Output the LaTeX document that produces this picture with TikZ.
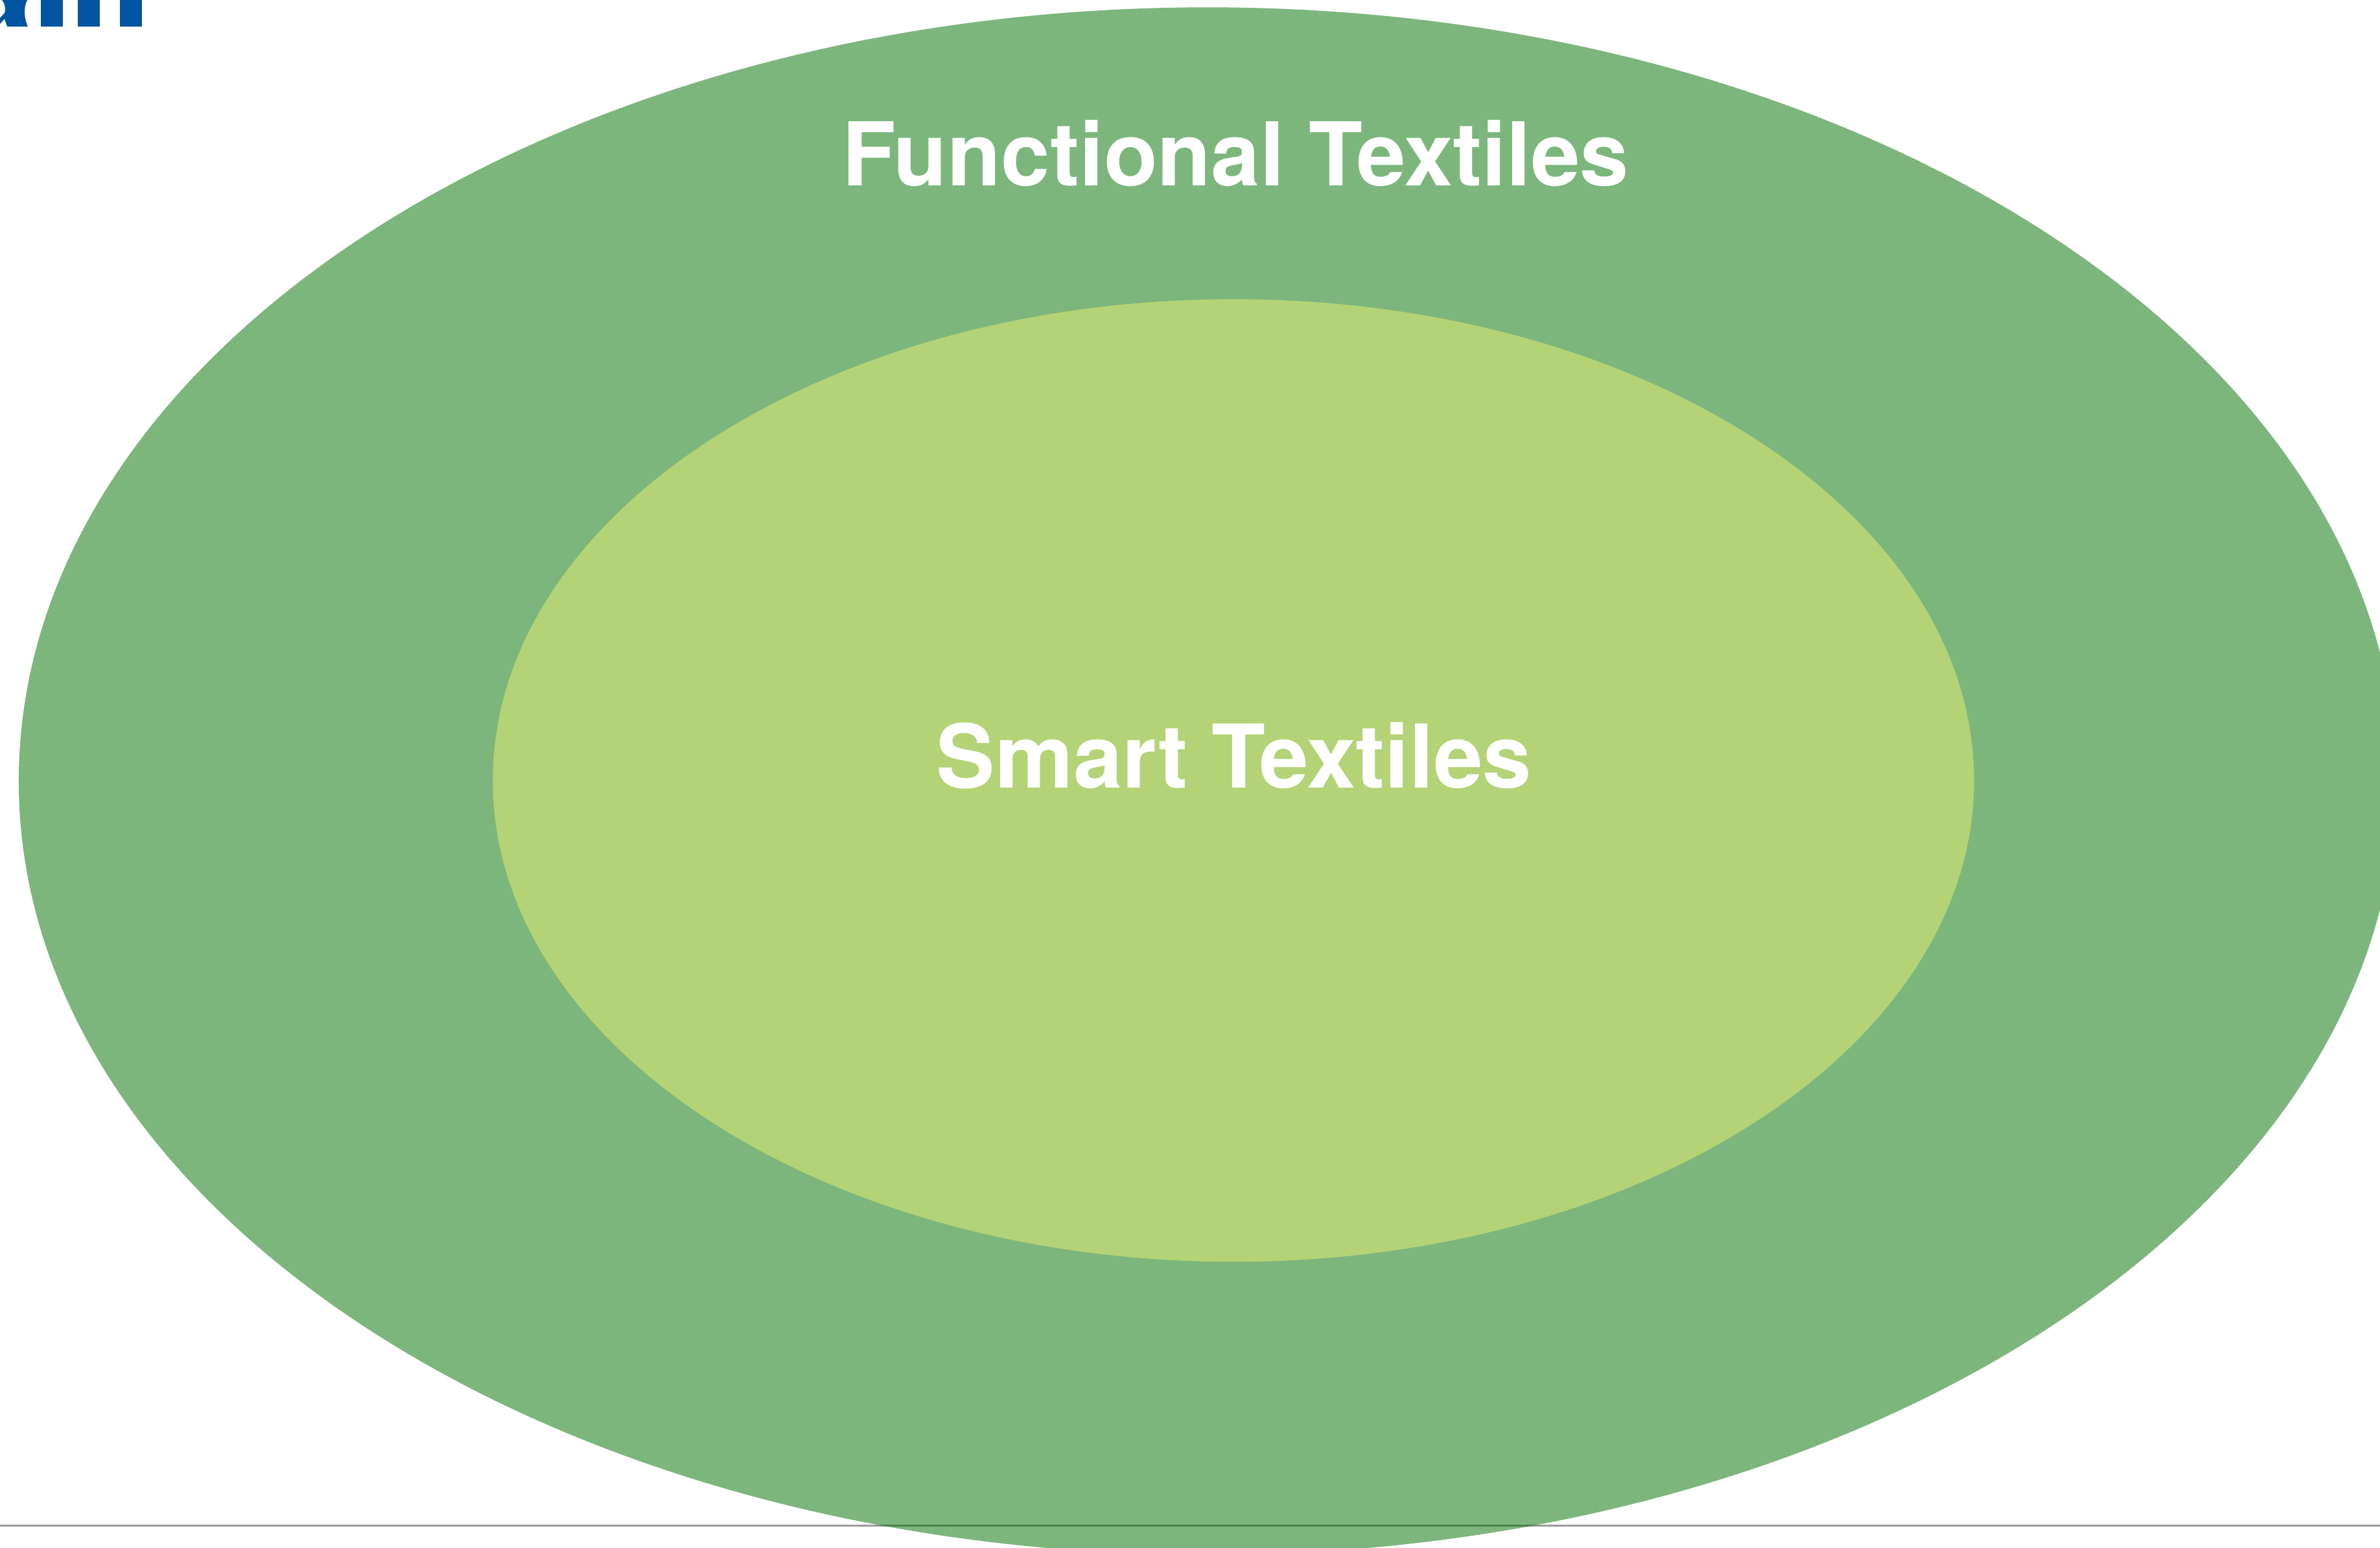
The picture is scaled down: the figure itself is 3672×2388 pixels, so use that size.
\documentclass[tikz,border=0pt]{standalone}
\usepackage{fontspec}
\setmainfont{TeX Gyre Heros}
\definecolor{logoblue}{HTML}{0054A0}
\definecolor{outergreen}{HTML}{007100}
\definecolor{innergreen}{HTML}{B4D376}
\definecolor{rulegray}{HTML}{9A9A9A}
\tikzset{
	textile label/.style={text=white,font=\bfseries\fontsize{38.6}{38.6}\selectfont,anchor=base,inner sep=0pt},
	logo bar/.style={fill=logoblue}
}

\begin{document}
\begin{tikzpicture}[x=0.01cm,y=-0.01cm]
	\useasboundingbox (0,0) rectangle (3672,2388);
	\clip (0,0) rectangle (3672,2388);

	%cut off logo
	\fill[logo bar] (0,37) -- (7,29) -- (11,41) -- (43,41) .. controls (37,28) and (36,12) .. (42,0) -- (3,0) .. controls (8,6) and (9,15) .. (7,20) -- (0,28) -- cycle;
	\foreach \barx in {63,120,185} {
		\fill[logo bar] (\barx,0) rectangle ++(34,41);
	}

	\draw[rulegray,line width=0.03cm] (0,2353) -- (3672,2353);

	\fill[outergreen,fill opacity=0.512] (1863,1205) ellipse [x radius=18.33cm,y radius=11.93cm];
	\fill[innergreen] (1903,1204) ellipse [x radius=11.42cm,y radius=7.42cm];

	\node[textile label] (functional) at (1906,287) {Functional Textiles};
	\node[textile label] (smart) at (1904,1215) {Smart Textiles};
\end{tikzpicture}
\end{document}
